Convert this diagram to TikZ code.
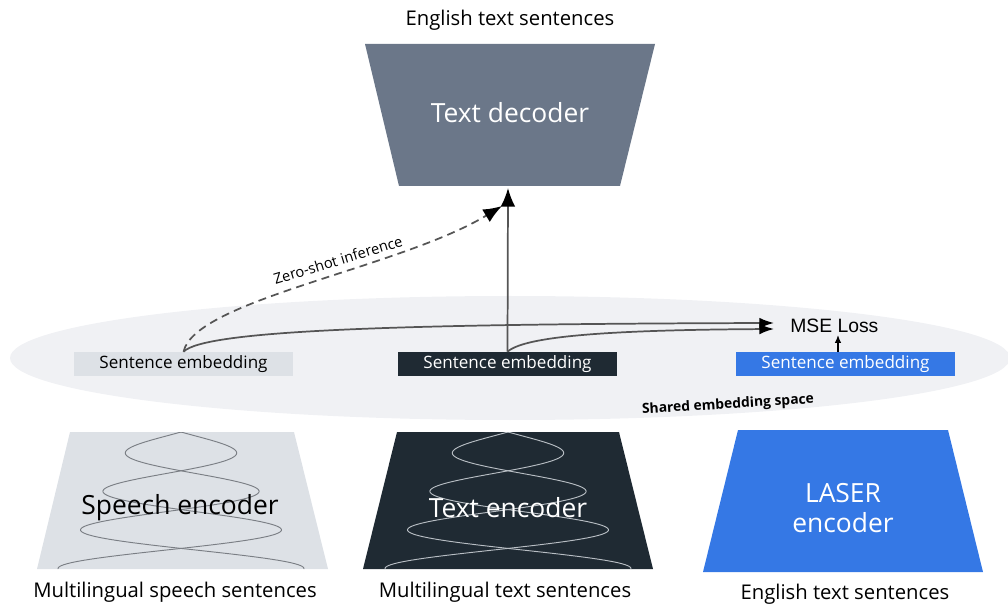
\documentclass[tikz,border=0pt]{standalone}
\usepackage{fontspec}
\setmainfont{Open Sans}
\usetikzlibrary{arrows.meta}
\definecolor{decgray}{HTML}{6B7789}
\definecolor{darkenc}{HTML}{1F2A33}
\definecolor{lightenc}{HTML}{DDE1E6}
\definecolor{laserblue}{HTML}{3578E5}
\definecolor{spacecol}{HTML}{F0F1F4}
\definecolor{wire}{HTML}{555555}
\definecolor{wavegray}{HTML}{7A7E84}
\definecolor{wavelight}{HTML}{B8BEC4}
\begin{document}
\begin{tikzpicture}[x=0.75pt,y=-0.75pt,
  embbox/.style={minimum width=164.25pt,minimum height=18pt,inner sep=0pt,font=\fontsize{12.8}{14}\selectfont},
  enclabel/.style={font=\fontsize{19.8}{22}\selectfont,inner sep=0pt},
  caption/.style={font=\fontsize{15.2}{18}\selectfont,inner sep=0pt},
  conn/.style={draw=wire,line width=1.3pt},
  tip/.style={-{Latex[length=14pt,width=11pt,black]}},
  smalltip/.style={-{Latex[length=11pt,width=8pt,black]}},
]
\useasboundingbox (0,0) rectangle (1008,606);
% shared space
\fill[spacecol] (510,358) ellipse [x radius=500, y radius=62];
\node[font=\bfseries\fontsize{10.4}{12}\selectfont,rotate=3.5,inner sep=0pt] (shared) at (728,405) {Shared embedding space};

% decoder
\fill[decgray] (365,44) -- (655,44) -- (620,186) -- (399,186) -- cycle;
\node[enclabel,text=white] (dec) at (510,113) {Text decoder};
\node[caption] (topcap) at (510,20) {English text sentences};
\coordinate (decbot) at (508,188);

% encoders
\fill[lightenc] (70,432) -- (294,432) -- (328,569) -- (37,569) -- cycle;
\begin{scope}
\clip (70,432) -- (294,432) -- (328,569) -- (37,569) -- cycle;
\foreach \s in {1,-1}
  \draw[wavegray,line width=0.7pt] plot[domain=-2:137,samples=160,variable=\t]
    ({181+\s*(44+0.58*\t)*sin(\t/38.8*180)},{432+\t});
\end{scope}
\fill[darkenc] (397,432) -- (619,432) -- (653,569) -- (363,569) -- cycle;
\begin{scope}
\clip (397,432) -- (619,432) -- (653,569) -- (363,569) -- cycle;
\foreach \s in {1,-1}
  \draw[wavelight,line width=0.7pt] plot[domain=-2:137,samples=160,variable=\t]
    ({508+\s*(44+0.58*\t)*sin(\t/38.8*180)},{432+\t});
\end{scope}
\fill[laserblue] (738,430) -- (948,430) -- (983,572) -- (703,572) -- cycle;

\node[enclabel,text=black] (senc) at (180,508) {Speech encoder};
\node[enclabel,text=white] (tenc) at (508,508) {Text encoder};
\node[enclabel,text=white,align=center,font=\fontsize{19.8}{23}\selectfont] (lenc) at (843,508) {LASER\\encoder};

\node[caption] (c1) at (175,592) {Multilingual speech sentences};
\node[caption] (c2) at (505,592) {Multilingual text sentences};
\node[caption] (c3) at (845,594) {English text sentences};

% embeddings
\node[embbox,fill=lightenc,text=black] (e1) at (183.5,364) {Sentence embedding};
\node[embbox,fill=darkenc,text=white] (e2) at (507.5,364) {Sentence embedding};
\node[embbox,fill=laserblue,text=white] (e3) at (845.5,364) {Sentence embedding};

% MSE
\node[font=\fontsize{14.5}{16}\selectfont\fontspec{Liberation Sans},inner sep=0pt,anchor=west] (mse) at (790,326) {MSE Loss};
\coordinate (m1) at (774,323);
\coordinate (m2) at (774,329);
\coordinate (m3) at (838,335);

% connectors
\draw[conn,tip] (e2.north) -- (decbot);
\draw[conn,smalltip] (e1.north) .. controls (205,330) and (400,324) .. (m1);
\draw[conn,smalltip] (e2.north) .. controls (525,336) and (610,330) .. (m2);
\draw[conn,-{Latex[length=6pt,width=5pt]},line width=1pt,draw=black] (e3.north -| m3) -- (m3);
\draw[conn,dashed,dash pattern=on 6pt off 4pt,tip] (e1.north) .. controls (195,300) and (400,268) .. (502,206);
\node[font=\fontsize{11}{13}\selectfont,rotate=17,inner sep=0pt] (zs) at (338,260) {Zero-shot inference};
\end{tikzpicture}
\end{document}
